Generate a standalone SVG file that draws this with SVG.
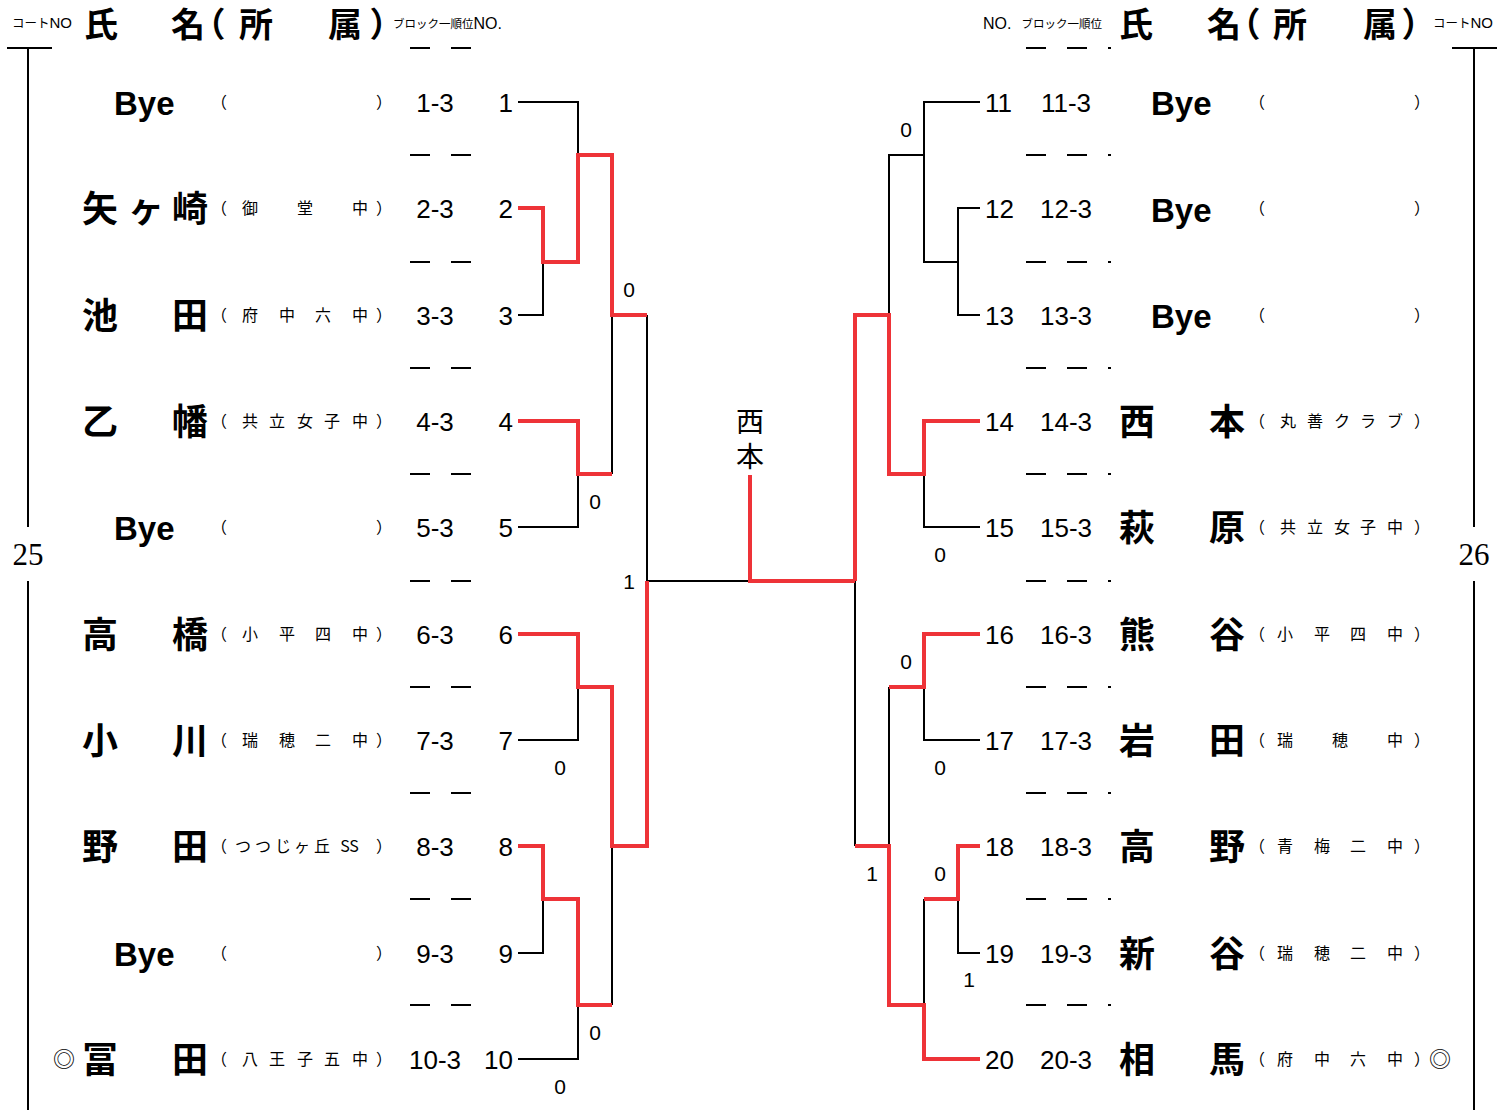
<svg xmlns="http://www.w3.org/2000/svg" width="1505" height="1110" viewBox="0 0 1505 1110">
<style>
.bk{fill:none;stroke:#000;stroke-width:2}
.rd{fill:none;stroke:#ee3338;stroke-width:4}
.dash{stroke:#000;stroke-width:2}
.nm{font-family:"Noto Sans CJK JP",sans-serif;font-weight:700;font-size:36px;text-anchor:middle;fill:#000}
.hd{font-family:"Noto Sans CJK JP",sans-serif;font-weight:700;font-size:34px;text-anchor:middle;fill:#000;font-feature-settings:"halt"}
.af{font-family:"Noto Sans CJK JP",sans-serif;font-size:16px;text-anchor:middle;fill:#000}
.no{font-family:"Liberation Sans",sans-serif;font-size:16px;fill:#000}
.bye{font-family:"Liberation Sans",sans-serif;font-weight:700;font-size:33px;fill:#000}
.num{font-family:"Liberation Sans",sans-serif;font-size:26px;fill:#000}
.bn{font-family:"Liberation Sans",sans-serif;font-size:26px;fill:#000;text-anchor:middle}
.sc{font-family:"Liberation Sans",sans-serif;font-size:21px;fill:#000;text-anchor:middle}
.ct{font-family:"Liberation Serif",serif;font-size:31px;fill:#000;text-anchor:middle}
.win{font-family:"Noto Sans CJK JP",sans-serif;font-size:28px;fill:#000;writing-mode:vertical-rl;letter-spacing:7px}
.mk{font-family:"Noto Sans CJK JP",sans-serif;font-size:22px;text-anchor:middle;fill:#000}
</style>

<g id="header-left">
<text x="12" y="28" font-family="Noto Sans CJK JP, sans-serif" font-size="12.5"><tspan>コート</tspan><tspan font-family="Liberation Sans, sans-serif" font-size="15">NO</tspan></text>
<text class="hd" x="101 188 217 256 345 378" y="37">氏名（所属）</text>
<text x="393" y="28" font-family="Noto Sans CJK JP, sans-serif" font-size="11.5"><tspan>ブロック一順位</tspan><tspan font-family="Liberation Sans, sans-serif" font-size="16" dy="1">NO.</tspan></text>
</g>
<g id="header-right">
<text x="983" y="29" font-family="Liberation Sans, sans-serif" font-size="16"><tspan>NO.</tspan><tspan font-family="Noto Sans CJK JP, sans-serif" font-size="11.5" dx="10" dy="-1">ブロック一順位</tspan></text>
<text class="hd" x="1136 1224 1252 1290 1380 1410" y="37">氏名（所属）</text>
<text x="1433" y="28" font-family="Noto Sans CJK JP, sans-serif" font-size="12.5"><tspan>コート</tspan><tspan font-family="Liberation Sans, sans-serif" font-size="15">NO</tspan></text>
</g>

<g id="court-lines">
<path class="bk" d="M7,48 H52 M28,48 V527 M28,581 V1110"/>
<path class="bk" d="M1452,48 H1497 M1474,48 V527 M1474,581 V1110"/>
<text class="ct" x="28" y="565">25</text>
<text class="ct" x="1474" y="565">26</text>
</g>

<g id="dashes">
<path class="dash" d="M410,48H430M451,48H471 M410,155H430M451,155H471 M410,262H430M451,262H471 M410,368H430M451,368H471 M410,474H430M451,474H471 M410,581H430M451,581H471 M410,687H430M451,687H471 M410,793H430M451,793H471 M410,899H430M451,899H471 M410,1005H430M451,1005H471"/>
<path class="dash" d="M1026,48H1046M1067,48H1087M1108,48H1111 M1026,155H1046M1067,155H1087M1108,155H1111 M1026,262H1046M1067,262H1087M1108,262H1111 M1026,368H1046M1067,368H1087M1108,368H1111 M1026,474H1046M1067,474H1087M1108,474H1111 M1026,581H1046M1067,581H1087M1108,581H1111 M1026,687H1046M1067,687H1087M1108,687H1111 M1026,793H1046M1067,793H1087M1108,793H1111 M1026,899H1046M1067,899H1087M1108,899H1111 M1026,1005H1046M1067,1005H1087M1108,1005H1111"/>
</g>

<g id="p1"><text class="bye" x="114" y="115">Bye</text><text class="af" x="219 384" y="108">（）</text><text class="bn" x="435" y="112">1-3</text><text class="num" x="513" y="112" text-anchor="end">1</text></g>
<g id="p2"><text class="nm" x="100 146 190" y="222">矢ヶ崎</text><text class="af" x="219 250 305 360 384" y="214">（御堂中）</text><text class="bn" x="435" y="218">2-3</text><text class="num" x="513" y="218" text-anchor="end">2</text></g>
<g id="p3"><text class="nm" x="100 190" y="329">池田</text><text class="af" x="219 250 287 323 360 384" y="321">（府中六中）</text><text class="bn" x="435" y="325">3-3</text><text class="num" x="513" y="325" text-anchor="end">3</text></g>
<g id="p4"><text class="nm" x="100 190" y="435">乙幡</text><text class="af" x="219 250 277 305 332 360 384" y="427">（共立女子中）</text><text class="bn" x="435" y="431">4-3</text><text class="num" x="513" y="431" text-anchor="end">4</text></g>
<g id="p5"><text class="bye" x="114" y="540">Bye</text><text class="af" x="219 384" y="533">（）</text><text class="bn" x="435" y="537">5-3</text><text class="num" x="513" y="537" text-anchor="end">5</text></g>
<g id="p6"><text class="nm" x="100 190" y="648">高橋</text><text class="af" x="219 250 287 323 360 384" y="640">（小平四中）</text><text class="bn" x="435" y="644">6-3</text><text class="num" x="513" y="644" text-anchor="end">6</text></g>
<g id="p7"><text class="nm" x="100 190" y="754">小川</text><text class="af" x="219 250 287 323 360 384" y="746">（瑞穂二中）</text><text class="bn" x="435" y="750">7-3</text><text class="num" x="513" y="750" text-anchor="end">7</text></g>
<g id="p8"><text class="nm" x="100 190" y="860">野田</text><text class="af" x="219 243 263 283 302 322 345 354 384" y="852">（つつじヶ丘SS）</text><text class="bn" x="435" y="856">8-3</text><text class="num" x="513" y="856" text-anchor="end">8</text></g>
<g id="p9"><text class="bye" x="114" y="966">Bye</text><text class="af" x="219 384" y="959">（）</text><text class="bn" x="435" y="963">9-3</text><text class="num" x="513" y="963" text-anchor="end">9</text></g>
<g id="p10"><text class="mk" x="64" y="1067">◎</text><text class="nm" x="100 190" y="1073">冨田</text><text class="af" x="219 250 277 305 332 360 384" y="1065">（八王子五中）</text><text class="bn" x="435" y="1069">10-3</text><text class="num" x="513" y="1069" text-anchor="end">10</text></g>

<g id="p11"><text class="num" x="985" y="112">11</text><text class="bn" x="1066" y="112">11-3</text><text class="bye" x="1151" y="115">Bye</text><text class="af" x="1257 1422" y="108">（）</text></g>
<g id="p12"><text class="num" x="985" y="218">12</text><text class="bn" x="1066" y="218">12-3</text><text class="bye" x="1151" y="222">Bye</text><text class="af" x="1257 1422" y="214">（）</text></g>
<g id="p13"><text class="num" x="985" y="325">13</text><text class="bn" x="1066" y="325">13-3</text><text class="bye" x="1151" y="328">Bye</text><text class="af" x="1257 1422" y="321">（）</text></g>
<g id="p14"><text class="num" x="985" y="431">14</text><text class="bn" x="1066" y="431">14-3</text><text class="nm" x="1137 1227" y="435">西本</text><text class="af" x="1257 1288 1315 1342 1368 1395 1422" y="427">（丸善クラブ）</text></g>
<g id="p15"><text class="num" x="985" y="537">15</text><text class="bn" x="1066" y="537">15-3</text><text class="nm" x="1137 1227" y="541">萩原</text><text class="af" x="1257 1288 1315 1342 1368 1395 1422" y="533">（共立女子中）</text></g>
<g id="p16"><text class="num" x="985" y="644">16</text><text class="bn" x="1066" y="644">16-3</text><text class="nm" x="1137 1227" y="648">熊谷</text><text class="af" x="1257 1285 1322 1358 1395 1422" y="640">（小平四中）</text></g>
<g id="p17"><text class="num" x="985" y="750">17</text><text class="bn" x="1066" y="750">17-3</text><text class="nm" x="1137 1227" y="754">岩田</text><text class="af" x="1257 1285 1340 1395 1422" y="746">（瑞穂中）</text></g>
<g id="p18"><text class="num" x="985" y="856">18</text><text class="bn" x="1066" y="856">18-3</text><text class="nm" x="1137 1227" y="860">高野</text><text class="af" x="1257 1285 1322 1358 1395 1422" y="852">（青梅二中）</text></g>
<g id="p19"><text class="num" x="985" y="963">19</text><text class="bn" x="1066" y="963">19-3</text><text class="nm" x="1137 1227" y="967">新谷</text><text class="af" x="1257 1285 1322 1358 1395 1422" y="959">（瑞穂二中）</text></g>
<g id="p20"><text class="num" x="985" y="1069">20</text><text class="bn" x="1066" y="1069">20-3</text><text class="nm" x="1137 1227" y="1073">相馬</text><text class="af" x="1257 1285 1322 1358 1395 1422" y="1065">（府中六中）</text><text class="mk" x="1440" y="1067">◎</text></g>

<g id="connectors">
<path class="bk" d="M518,102 H578 V155 M518,315 H543 V262 M612,315 V474 M647,315 V581 H750 M518,527 H578 V474 M518,740 H578 V687 M518,953 H543 V899 M518,1059 H578 V1005 M612,846 V1005"/>
<path class="bk" d="M980,102 H924 V262 H958 M924,155 H889 V315 M980,208 H958 V315 H980 M980,527 H924 V474 M980,740 H924 V687 M889,687 V846 M855,581 V846 M980,953 H958 V899 M924,899 V1005"/>
<path class="rd" d="M518,208 H543 V262 H578 V155 H612 V315 H647 M518,421 H578 V474 H612 M518,634 H578 V687 H612 V846 H647 V581 M518,846 H543 V899 H578 V1005 H612"/>
<path class="rd" d="M750,475 V581 H855 M855,581 V315 H889 V474 H924 V421 H980 M980,634 H924 V687 H889 M855,846 H889 V1005 H924 V1059 H980 M980,846 H958 V899 H924"/>
</g>

<g id="scores">
<text class="sc" x="629" y="297">0</text>
<text class="sc" x="595" y="509">0</text>
<text class="sc" x="629" y="589">1</text>
<text class="sc" x="560" y="775">0</text>
<text class="sc" x="595" y="1040">0</text>
<text class="sc" x="560" y="1094">0</text>
<text class="sc" x="906" y="137">0</text>
<text class="sc" x="940" y="562">0</text>
<text class="sc" x="906" y="669">0</text>
<text class="sc" x="940" y="775">0</text>
<text class="sc" x="872" y="881">1</text>
<text class="sc" x="940" y="881">0</text>
<text class="sc" x="969" y="987">1</text>
</g>

<g id="winner"><text class="win" x="750" y="407">西本</text></g>
</svg>
